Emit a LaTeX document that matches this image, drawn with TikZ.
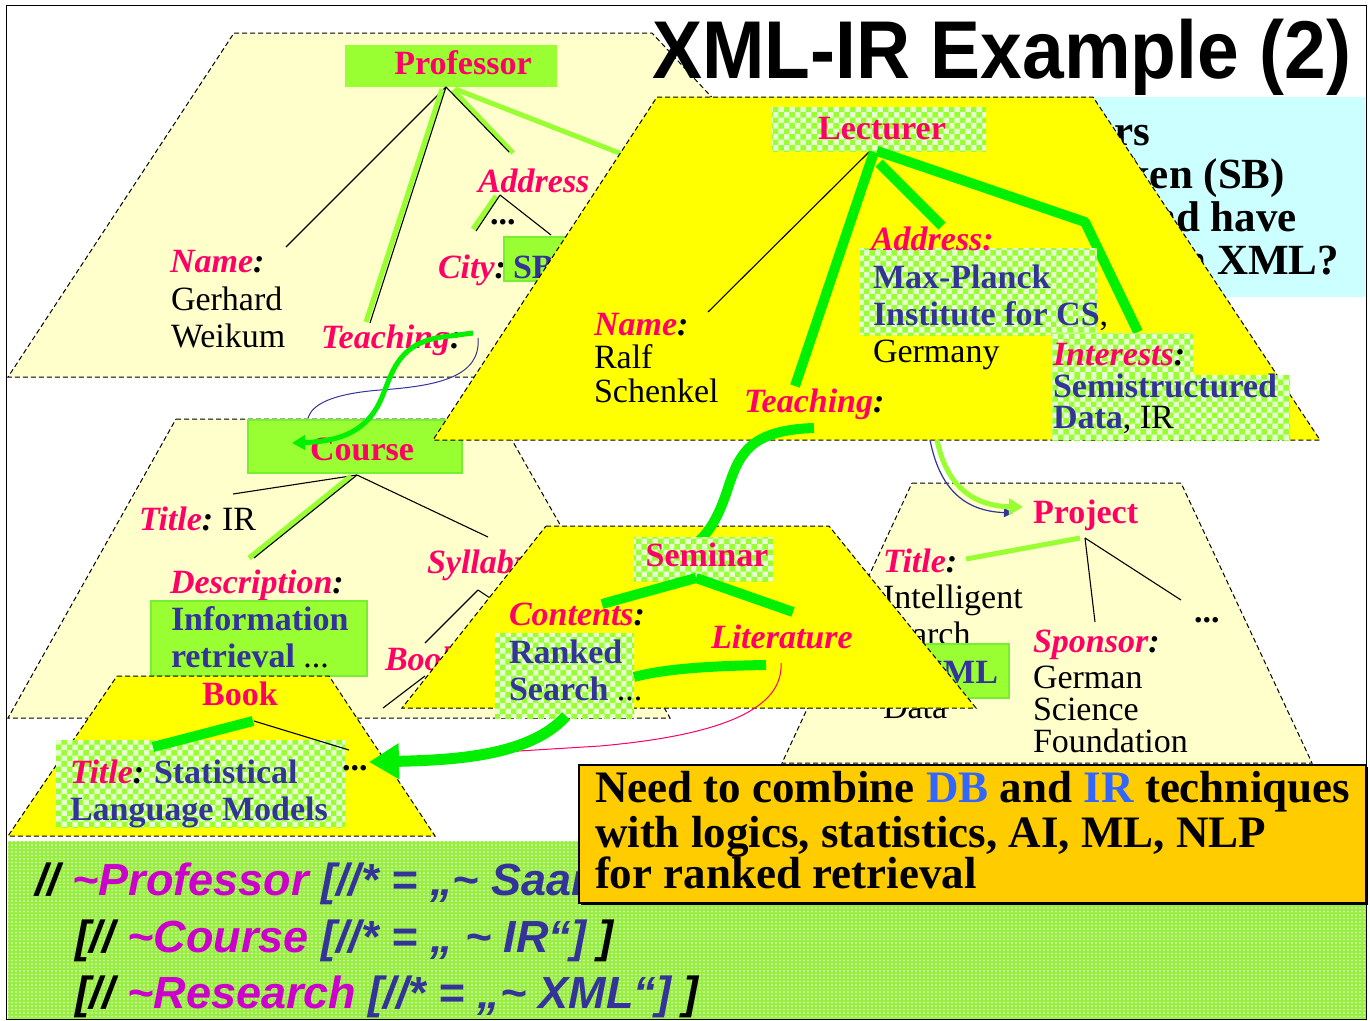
\documentclass[tikz,border=0pt]{standalone}
\usepackage{fontspec}
\setmainfont{Liberation Serif}
\setsansfont{Liberation Sans}
\usetikzlibrary{patterns,arrows.meta}

\definecolor{labred}{HTML}{FF0066}
\definecolor{valblue}{HTML}{333399}
\definecolor{paleyel}{HTML}{FFFFCC}
\definecolor{brightyel}{HTML}{FFFF00}
\definecolor{limegreen}{HTML}{99FF33}
\definecolor{boxedge}{HTML}{77EE33}
\definecolor{puregreen}{HTML}{00F000}
\definecolor{chkbase}{HTML}{E6FFD0}
\definecolor{cyanbg}{HTML}{CCFFFF}
\definecolor{orangebg}{HTML}{FFCC00}
\definecolor{dbblue}{HTML}{3366FF}
\definecolor{qmag}{HTML}{CC00CC}
\definecolor{qgreen}{HTML}{99EE44}

% grid of round dots for the query panel
\pgfdeclarepatternformonly{qdotgrid}{\pgfqpoint{-1pt}{-1pt}}{\pgfqpoint{1pt}{1pt}}{\pgfqpoint{4pt}{3.5pt}}{%
  \pgfpathcircle{\pgfqpoint{0pt}{0pt}}{0.85pt}\pgfusepath{fill}}

\newcommand\rl[1]{\textcolor{labred}{#1}}
\newcommand\fsz[1]{\fontsize{#1}{#1}\selectfont}

\begin{document}
\begin{tikzpicture}[x=1pt,y=-1pt,
  every node/.style={inner sep=0pt,outer sep=0pt},
  zone/.style={draw=black,line width=1pt,dash pattern=on 5pt off 3pt},
  thinlink/.style={draw=black,line width=1.1pt},
  lightbar/.style={draw=limegreen,line width=5pt},
  brightbar/.style={draw=puregreen,line width=10pt},
  gbox/.style={fill=limegreen,draw=boxedge,line width=2pt},
  chk/.style={preaction={fill=chkbase},pattern=checkerboard,pattern color=limegreen},
  lbl/.style={anchor=base west,font=\fsz{34}\bfseries\itshape},
  txt/.style={anchor=base west,font=\fsz{34}},
  val/.style={anchor=base west,font=\fsz{34}\bfseries,text=valblue},
  head/.style={anchor=base,font=\fsz{34}\bfseries,text=labred},
  dots3/.style={anchor=base west,font=\fsz{34}\bfseries},
  qry/.style={anchor=base west,font=\sffamily\bfseries\itshape\fsz{45}},
  cyq/.style={anchor=base east,font=\fsz{43}\bfseries},
]
\useasboundingbox (0,0) rectangle (1370,1020);
\fill[white] (0,0) rectangle (1370,1020);

% ---------- question box, its left part lies under the Lecturer element ----------
\begin{scope}
  \clip (1093,97) -- (1365,97) -- (1365,297) -- (1225,297) -- cycle;
  \fill[cyanbg] (1000,97) rectangle (1365,297);
  \node[cyq] (cq1) at (1150,145) {Which professors};
  \node[cyq] (cq2) at (1285,188) {from Saarbrücken (SB)};
  \node[cyq] (cq3) at (1297,231) {teach IR and have};
  \node[cyq] (cq4) at (1339,274) {research on XML?};
\end{scope}

% ---------- Professor element ----------
\path[zone,fill=paleyel] (234,33) -- (652,33) -- (972,377) -- (8,377) -- cycle;
\fill[limegreen] (345,45) rectangle (557,87);
\node[head] (prof) at (463,74) {Professor};
\coordinate (profroot) at (446,87);
\coordinate (pnameend) at (286,247);
\coordinate (pteachend) at (370,323);
\coordinate (paddrend) at (509,152);
\draw[thinlink] (profroot) -- (pnameend);
\draw[lightbar] (442,89) -- (366,322);
\draw[thinlink] (profroot) -- (pteachend);
\draw[lightbar] (453,90) -- (513,153);
\draw[thinlink] (profroot) -- (paddrend);
\draw[lightbar] (455,89) -- (740,200);
\node[lbl] (paddr) at (478,192) {\rl{Address}};
\coordinate (addrroot) at (500,195);
\draw[lightbar] (496,196) -- (473,229);
\draw[thinlink] (addrroot) -- (476,231);
\draw[thinlink] (addrroot) -- (551,235);
\node[dots3] (pdots) at (490,224) {...};
\node[lbl] (pname) at (170,272) {\rl{Name}:};
\node[txt] (pgerh) at (171,310) {Gerhard};
\node[txt] (pweik) at (171,347) {Weikum};
\node[lbl] (pcity) at (438,278) {\rl{City}:};
\path[gbox] (504,237) rectangle (610,281);
\node[val] (psb) at (513,278) {SB};
\node[lbl] (pteach) at (321,348) {\rl{Teaching}:};

% ---------- Course element ----------
\path[zone,fill=paleyel] (176,419) -- (500,419) -- (670,718) -- (8,718) -- cycle;
\path[gbox] (248,420) rectangle (462,473);
\node[head] (course) at (362,460) {Course};
\coordinate (courseroot) at (357,475);
\draw[thinlink] (courseroot) -- (233,494);
\draw[lightbar] (351,476) -- (249,558);
\draw[thinlink] (courseroot) -- (254,558);
\draw[thinlink] (courseroot) -- (488,537);
\node[lbl] (ctitle) at (139,530) {\rl{Title}:};
\node[txt] (cir) at (222,530) {IR};
\node[lbl] (cdesc) at (170,593) {\rl{Description}:};
\path[gbox] (151,601) rectangle (367,676);
\node[val] (cinfo) at (171,630) {Information};
\node[val] (cretr) at (171,667) {retrieval \textcolor{black}{\mdseries ...}};
\node[lbl] (csyll) at (427,573) {\rl{Syllabus}};
\coordinate (syllroot) at (478,590);
\draw[thinlink] (syllroot) -- (425,643);
\draw[thinlink] (syllroot) -- (490,598);
\node[lbl] (cbook) at (385,670) {\rl{Book}};
\draw[thinlink] (425,676) -- (383,708);

% Teaching -> Course links
\draw[draw=valblue,line width=1pt] (478,338) .. controls (481,376) and (440,386) .. (380,390)
  .. controls (330,394) and (312,405) .. (308,418);
\draw[draw=puregreen,line width=5pt,-{Triangle[length=13pt,width=14pt]}]
  (473,333) -- (442,337) .. controls (400,343) and (393,370) .. (384,392)
  .. controls (372,425) and (350,441) .. (292,443);

% ---------- Project element ----------
\path[zone,fill=paleyel] (912,483) -- (1181,483) -- (1312,763) -- (782,763) -- cycle;
\node[head,anchor=base west] (proj) at (1033,523) {Project};
\coordinate (projroot) at (1085,538);
\draw[lightbar] (1080,538) -- (966,559);
\draw[thinlink] (projroot) -- (1095,622);
\draw[thinlink] (projroot) -- (1181,600);
\node[lbl] (jtitle) at (883,572) {\rl{Title}:};
\node[txt] (jint) at (883,608) {Intelligent};
\node[txt] (jsea) at (878,645) {Search};
\path[gbox] (905,644) rectangle (1009,698);
\node[val,anchor=base east] (jxml) at (998,683) {XML};
\node[txt] (jdata) at (883,718) {Data};
\node[dots3] (jdots) at (1194,622) {...};
\node[lbl] (jspon) at (1033,652) {\rl{Sponsor}:};
\node[txt] (jger) at (1033,688) {German};
\node[txt] (jsci) at (1033,720) {Science};
\node[txt] (jfou) at (1033,752) {Foundation};

% ---------- Lecturer element ----------
\path[zone,fill=brightyel] (657,97) -- (1093,97) -- (1320,440) -- (433,440) -- cycle;
\path[chk] (772,107) rectangle (986,151);
\node[head] (lect) at (882,139) {Lecturer};
\coordinate (lectroot) at (873,151);
\draw[thinlink] (869,152) -- (708,312);
\draw[brightbar] (874,152) -- (795,386);
\draw[brightbar] (879,163) -- (942,226);
\draw[brightbar,line join=bevel] (877,151) -- (1085,222) -- (1138,332);
\path[chk] (860,248) rectangle (1097,335);
\node[lbl,text=labred] (laddr) at (871,250) {Address:};
\node[val] (lmax) at (873,288) {Max-Planck};
\node[val] (linst) at (873,325) {Institute for CS\textcolor{black}{\mdseries,}};
\node[txt] (lger) at (873,362) {Germany};
\path[chk] (1052,333) rectangle (1193,376);
\path[chk] (1052,375) rectangle (1290,440);
\node[lbl] (lint) at (1053,365) {\rl{Interests}:};
\node[val] (lsemi) at (1053,397) {Semistructured};
\node[val] (ldata) at (1053,428) {Data\textcolor{black}{\mdseries, IR}};
\node[lbl] (lname) at (594,335) {\rl{Name}:};
\node[txt] (lralf) at (594,368) {Ralf};
\node[txt] (lsch) at (594,402) {Schenkel};
\node[lbl] (lteach) at (744,412) {\rl{Teaching}:};

% Research -> Project link
\draw[draw=valblue,line width=1.2pt,-{Triangle[length=9pt,width=9pt]}]
  (930,440) .. controls (940,490) and (965,511) .. (1013,513);
\draw[draw=limegreen,line width=5pt,-{Triangle[length=14pt,width=16pt]}]
  (937,440) .. controls (947,488) and (975,506) .. (1023,507);

% ---------- Seminar element ----------
\path[zone,fill=brightyel] (546,526) -- (829,526) -- (976,708) -- (402,708) -- cycle;
\draw[brightbar] (814,428) .. controls (752,430) and (740,452) .. (729,485)
  .. controls (721,510) and (713,528) .. (698,542);
\path[chk] (634,537) rectangle (773,581);
\node[head] (sem) at (707,566) {Seminar};
\coordinate (semroot) at (696,578);
\draw[brightbar] (semroot) -- (602,604);
\draw[brightbar] (semroot) -- (793,612);
\node[lbl] (scont) at (509,625) {\rl{Contents}:};
\path[chk] (495,633) rectangle (634,718);
\node[val] (srank) at (509,663) {Ranked};
\node[val] (ssear) at (509,700) {Search \textcolor{black}{\mdseries ...}};
\node[lbl] (slit) at (711,648) {\rl{Literature}};
\draw[brightbar] (766,665) .. controls (700,666) and (660,670) .. (634,677);

% ---------- Book element ----------
\path[zone,fill=brightyel] (117,676) -- (329,676) -- (435,836) -- (8,836) -- cycle;
\node[head] (book) at (240,705) {Book};
\path[chk] (56,740) rectangle (345,827);
\coordinate (bookroot) at (254,721);
\draw[brightbar] (253,721) -- (153,747);
\draw[thinlink] (bookroot) -- (349,750);
\node[lbl] (btitle) at (70,783) {\rl{Title}:};
\node[val] (bstat) at (154,783) {Statistical};
\node[val] (blang) at (70,820) {Language Models};
\node[dots3] (bdots) at (342,770) {...};
\coordinate (booktarget) at (369,762);

% Literature -> Book links
\draw[draw=labred,line width=1pt] (781,663) .. controls (784,716) and (700,737) .. (600,746) -- (470,754);
\draw[draw=puregreen,line width=11pt,-{Triangle[length=30pt,width=34pt]}]
  (566,716) .. controls (530,756) and (455,760) .. (booktarget);

% ---------- query ----------
\path[preaction={fill=qgreen},pattern=qdotgrid,pattern color=white!70!qgreen] (8,841) rectangle (1366,1019);
\node[qry] (ql1) at (35,895) {//\ \textcolor{qmag}{\textasciitilde Professor} \textcolor{valblue}{[//* = „\textasciitilde\ Saarbrücken“]}};
\node[qry] (ql2) at (75,952) {[//\ \textcolor{qmag}{\textasciitilde Course} \textcolor{valblue}{[//* = „ \textasciitilde\ IR“]} ]};
\node[qry] (ql3) at (75,1008) {[//\ \textcolor{qmag}{\textasciitilde Research} \textcolor{valblue}{[//* = „\textasciitilde\ XML“]} ]};

% ---------- conclusion box ----------
\fill[black] (581,767) rectangle (1368,905);
\path[fill=orangebg,draw=black,line width=1.2pt] (579,765) rectangle (1366,903);
\node[anchor=base west,font=\fsz{45}\bfseries] (c1) at (595,802) {Need to combine \textcolor{dbblue}{DB} and \textcolor{dbblue}{IR} techniques};
\node[anchor=base west,font=\fsz{45}\bfseries] (c2) at (595,847) {with logics, statistics, AI, ML, NLP};
\node[anchor=base west,font=\fsz{45}\bfseries] (c3) at (595,888) {for ranked retrieval};

% ---------- title ----------
\node[anchor=base west,font=\sffamily\bfseries\fsz{82}] (title) at (652,78) {\scalebox{0.914}[1]{XML-IR Example (2)}};

% frame
\draw[black,line width=1pt] (6.5,5.5) rectangle (1366,1019);
\end{tikzpicture}
\end{document}
